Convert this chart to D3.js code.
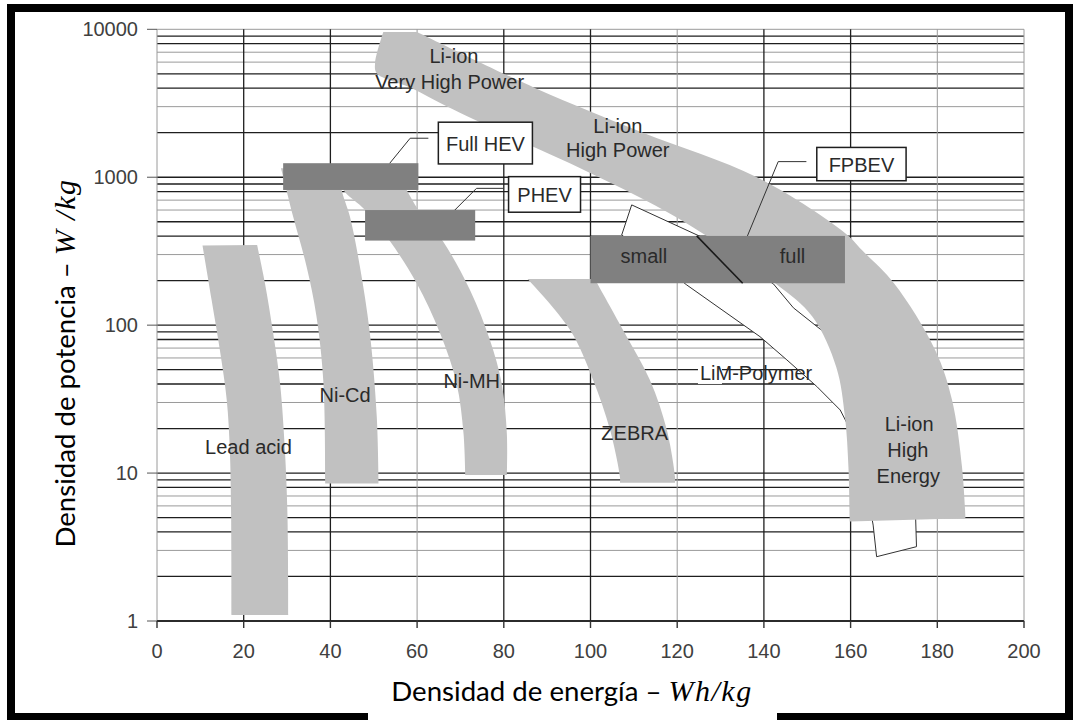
<!DOCTYPE html>
<html>
<head>
<meta charset="utf-8">
<script src="https://d3js.org/d3.v7.min.js"></script>
<style>
  body { margin: 0; background: #fff; }
  .grid-dark { stroke: #1e1e1e; stroke-width: 1.3px; }
  .grid-light { stroke: #9a9a9a; stroke-width: 1px; }
  .tick-lbl { font: 20px "Liberation Sans", Arial, sans-serif; fill: #404040; }
  .lbl { font: 20px "Liberation Sans", Arial, sans-serif; fill: #2a2a2a; text-anchor: middle; }
  .band { fill: #c1c1c1; }
  .target { fill: #808080; }
  .callout { fill: #fff; stroke: #1e1e1e; stroke-width: 1.5px; }
  .leader { fill: none; stroke: #333; stroke-width: 1px; }
  .title { font-family: Lato, sans-serif; font-size: 27.6px; fill: #000; }
  .math { font-family: "Liberation Serif", serif; font-style: italic; font-size: 30px; letter-spacing: 1.5px; }
</style>
</head>
<body>
<svg width="1074" height="720"></svg>
<script>
var xTicks = [0, 20, 40, 60, 80, 100, 120, 140, 160, 180, 200];
var yTicks = [1, 10, 100, 1000, 10000];

// band edges, [Wh/kg, W/kg], listed top to bottom
var leadLeft  = [[10.5,345],[12.6,148],[14.5,68],[16.1,31],[16.8,14.3],[17.1,5.1],[17.2,1.1]];
var leadRight = [[23.1,348],[24.9,192],[26.8,88],[28.4,40],[29.5,14.3],[30.1,5.1],[30.3,1.1]];
var nicdLeft  = [[28.6,1150],[29.1,1009],[31.4,542],[34.5,249],[36.8,114],[38.4,40.5],[38.8,8.5]];
var nicdRight = [[42,1150],[42.6,820],[44.5,542],[46.8,249],[49.1,88],[50.7,24],[51.1,8.5]];
var nimhLeft  = [[41,1150],[43,820],[48,601],[53.8,367],[59.9,192],[65.3,88],[69.1,40.5],[70.7,18.6],[71.1,9.7]];
var nimhRight = [[55,1150],[57.6,820],[60.3,601],[66,367],[72.2,173],[76.8,79.4],[79.5,40.5],[80.7,18.6],[80.7,9.7]];
var zebraLeft  = [[85.5,205],[95.3,92.8],[100.6,42.6],[104.5,19.6],[106.8,9.4],[106.8,8.6]];
var zebraRight = [[101,205],[107.5,92.8],[113.7,42.6],[117.6,19.6],[119.5,9.4],[119.5,8.6]];
var liionLower = [[52.2,9600],[50.3,5900],[50.7,5050],[58.8,4000],[66.8,3020],[79.8,1995],[99.9,1070],
                  [120,533],[142.6,192],[151.2,114],[156.7,52],[158.7,24],[159.5,11],[159.8,4.7]];
var liionUpper = [[60,9600],[87.3,4000],[112.1,2000],[138.4,1000],[158.7,420],[162.6,322],[170,192],
                  [179.5,68],[183.4,31.2],[185.7,11],[186.5,4.95]];
var limPolymer = [[109.5,650],[125.3,398],[142.2,190],[146.8,131],[156,80],[164,30],[172,10],[175,5],
                  [175.2,3.18],[166,2.72],[165.2,4.45],[162,15],[157.6,26.7],[152.2,38.5],[145.3,58.2],
                  [139.1,83.6],[122.2,187],[107.2,407]];

// target boxes [x0, x1, y0, y1]
var fullHev = [29.1, 60.3, 820, 1244];
var phev    = [48, 73.4, 373, 600];
var fpbev   = [100, 158.7, 192, 401];
var fpbevSplit = [[124.5,401],[135.1,192]];

// callouts: box [x0, x1, y0, y1], leader points
var calloutNames = ["Full HEV", "PHEV", "FPBEV"];
var calloutBoxes = [[64.9,86.6,1230,2355],[81.1,97.7,580,1009],[152.2,172.8,947,1590]];
var calloutLeaders = [[[62.6,1835],[58.4,1835],[53.7,1244]],
                      [[79.9,841],[73.7,841],[68.7,600]],
                      [[149.8,1275],[143.3,1275],[136.2,401]]];

// labels [text, x, y(baseline)]
var labels = [["Li-ion",68.5,5900],["Very High Power",67.5,3975],["Li-ion",106.3,1995],["High Power",106.3,1372],
              ["small",112.3,263],["full",146.6,263],["Lead acid",21.1,13.5],["Ni-Cd",43.4,30.4],
              ["Ni-MH",72.6,37.4],["ZEBRA",110.2,16.7],["Li-ion",173.5,19.3],["High",173.2,12.9],["Energy",173.3,8.57]];
var limLabel = ["LiM-Polymer", 138.2, 42.6];

var svg = d3.select("svg");
var x = d3.scaleLinear().domain([0, 200]).range([157, 1024]);
var y = d3.scaleLog().domain([1, 10000]).range([621, 29.3]);

// grid
var hLines = [];
yTicks.slice(0, 4).forEach(function(d) {
  for (var m = 1; m < 10; m++) hLines.push({v: d * m, m: m});
});
hLines.push({v: 10000, m: 1, edge: true});
var g = svg.append("g");
g.selectAll(".h").data(hLines).enter().append("line")
  .attr("class", function(d) { return (d.edge || [3,6,7].indexOf(d.m) >= 0) ? "grid-light" : "grid-dark"; })
  .attr("x1", x(0)).attr("x2", x(200))
  .attr("y1", function(d) { return y(d.v); }).attr("y2", function(d) { return y(d.v); });
g.selectAll(".v").data(xTicks).enter().append("line")
  .attr("class", function(d) { return (d == 0 || d == 200 || d % 60 == 0) ? "grid-light" : "grid-dark"; })
  .attr("x1", function(d) { return x(d); }).attr("x2", function(d) { return x(d); })
  .attr("y1", y(10000)).attr("y2", y(1));
g.append("line").attr("class", "grid-dark").attr("x1", x(0)).attr("x2", x(200)).attr("y1", y(1)).attr("y2", y(1));

// ticks
g.selectAll(".yt").data(yTicks).enter().append("line")
  .attr("stroke", "#555").attr("x1", x(0) - 10).attr("x2", x(0))
  .attr("y1", function(d) { return y(d); }).attr("y2", function(d) { return y(d); });
g.selectAll(".xt").data(xTicks).enter().append("line")
  .attr("stroke", "#333").attr("stroke-width", 1.4).attr("y1", y(1)).attr("y2", y(1) + 7)
  .attr("x1", function(d) { return x(d); }).attr("x2", function(d) { return x(d); });
g.selectAll(".ytl").data(yTicks).enter().append("text")
  .attr("class", "tick-lbl").attr("text-anchor", "end")
  .attr("x", 138).attr("y", function(d) { return y(d) + 7; }).text(function(d) { return d; });
g.selectAll(".xtl").data(xTicks).enter().append("text")
  .attr("class", "tick-lbl").attr("text-anchor", "middle")
  .attr("x", function(d) { return x(d); }).attr("y", 658).text(function(d) { return d; });

// shapes
var edge = d3.line().x(function(d) { return x(d[0]); }).y(function(d) { return y(d[1]); })
  .curve(d3.curveCatmullRom.alpha(0.5));
function bandPath(left, right) {
  return edge(left) + edge(right.slice().reverse()).replace("M", "L") + "Z";
}
var poly = d3.line().x(function(d) { return x(d[0]); }).y(function(d) { return y(d[1]); })
  .curve(d3.curveLinearClosed);

svg.append("path").attr("d", poly(limPolymer)).attr("fill", "#fff").attr("stroke", "#333").attr("stroke-width", 1);
svg.append("path").attr("class", "band").attr("d", bandPath(liionLower, liionUpper));
[[leadLeft, leadRight], [nicdLeft, nicdRight], [nimhLeft, nimhRight], [zebraLeft, zebraRight]].forEach(function(b) {
  svg.append("path").attr("class", "band").attr("d", bandPath(b[0], b[1]));
});

[fullHev, phev, fpbev].forEach(function(b) {
  svg.append("rect").attr("class", "target")
    .attr("x", x(b[0])).attr("width", x(b[1]) - x(b[0]))
    .attr("y", y(b[3])).attr("height", y(b[2]) - y(b[3]));
});
svg.append("path").attr("d", d3.line().x(function(d) { return x(d[0]); }).y(function(d) { return y(d[1]); })(fpbevSplit))
  .attr("stroke", "#1a1a1a").attr("stroke-width", 1.6);

calloutNames.forEach(function(name, i) {
  var b = calloutBoxes[i];
  svg.append("path").attr("class", "leader")
    .attr("d", d3.line().x(function(d) { return x(d[0]); }).y(function(d) { return y(d[1]); })(calloutLeaders[i]));
  svg.append("rect").attr("class", "callout")
    .attr("x", x(b[0])).attr("width", x(b[1]) - x(b[0]))
    .attr("y", y(b[3])).attr("height", y(b[2]) - y(b[3]));
  svg.append("text").attr("class", "lbl")
    .attr("x", x((b[0] + b[1]) / 2)).attr("y", (y(b[2]) + y(b[3])) / 2 + 7.5).text(name);
});

svg.selectAll(".lb").data(labels).enter().append("text").attr("class", "lbl")
  .attr("x", function(d) { return x(d[1]); }).attr("y", function(d) { return y(d[2]); })
  .text(function(d) { return d[0]; });

var lim = svg.append("g");
var limText = lim.append("text").attr("class", "lbl")
  .attr("x", x(limLabel[1])).attr("y", y(limLabel[2])).text(limLabel[0]);
var bb = limText.node().getBBox();
lim.insert("rect", "text").attr("fill", "#fff")
  .attr("x", bb.x - 2).attr("y", bb.y + 2).attr("width", 24).attr("height", bb.height - 2);

// frame and titles
svg.append("rect").attr("x", 11).attr("y", 8).attr("width", 1058).attr("height", 709)
  .attr("fill", "none").attr("stroke", "#000").attr("stroke-width", 8);
svg.append("rect").attr("x", 368).attr("y", 670).attr("width", 409).attr("height", 50).attr("fill", "#fff");

var xt = svg.append("text").attr("class", "title").attr("text-anchor", "middle").attr("x", 572).attr("y", 701);
xt.append("tspan").text("Densidad de energía – ");
xt.append("tspan").attr("class", "math").text("Wh/kg");

var yt = svg.append("text").attr("class", "title").attr("text-anchor", "middle")
  .attr("transform", "translate(75,363) rotate(-90)");
yt.append("tspan").text("Densidad de potencia – ");
yt.append("tspan").attr("class", "math").text("W /kg");
</script>
</body>
</html>
